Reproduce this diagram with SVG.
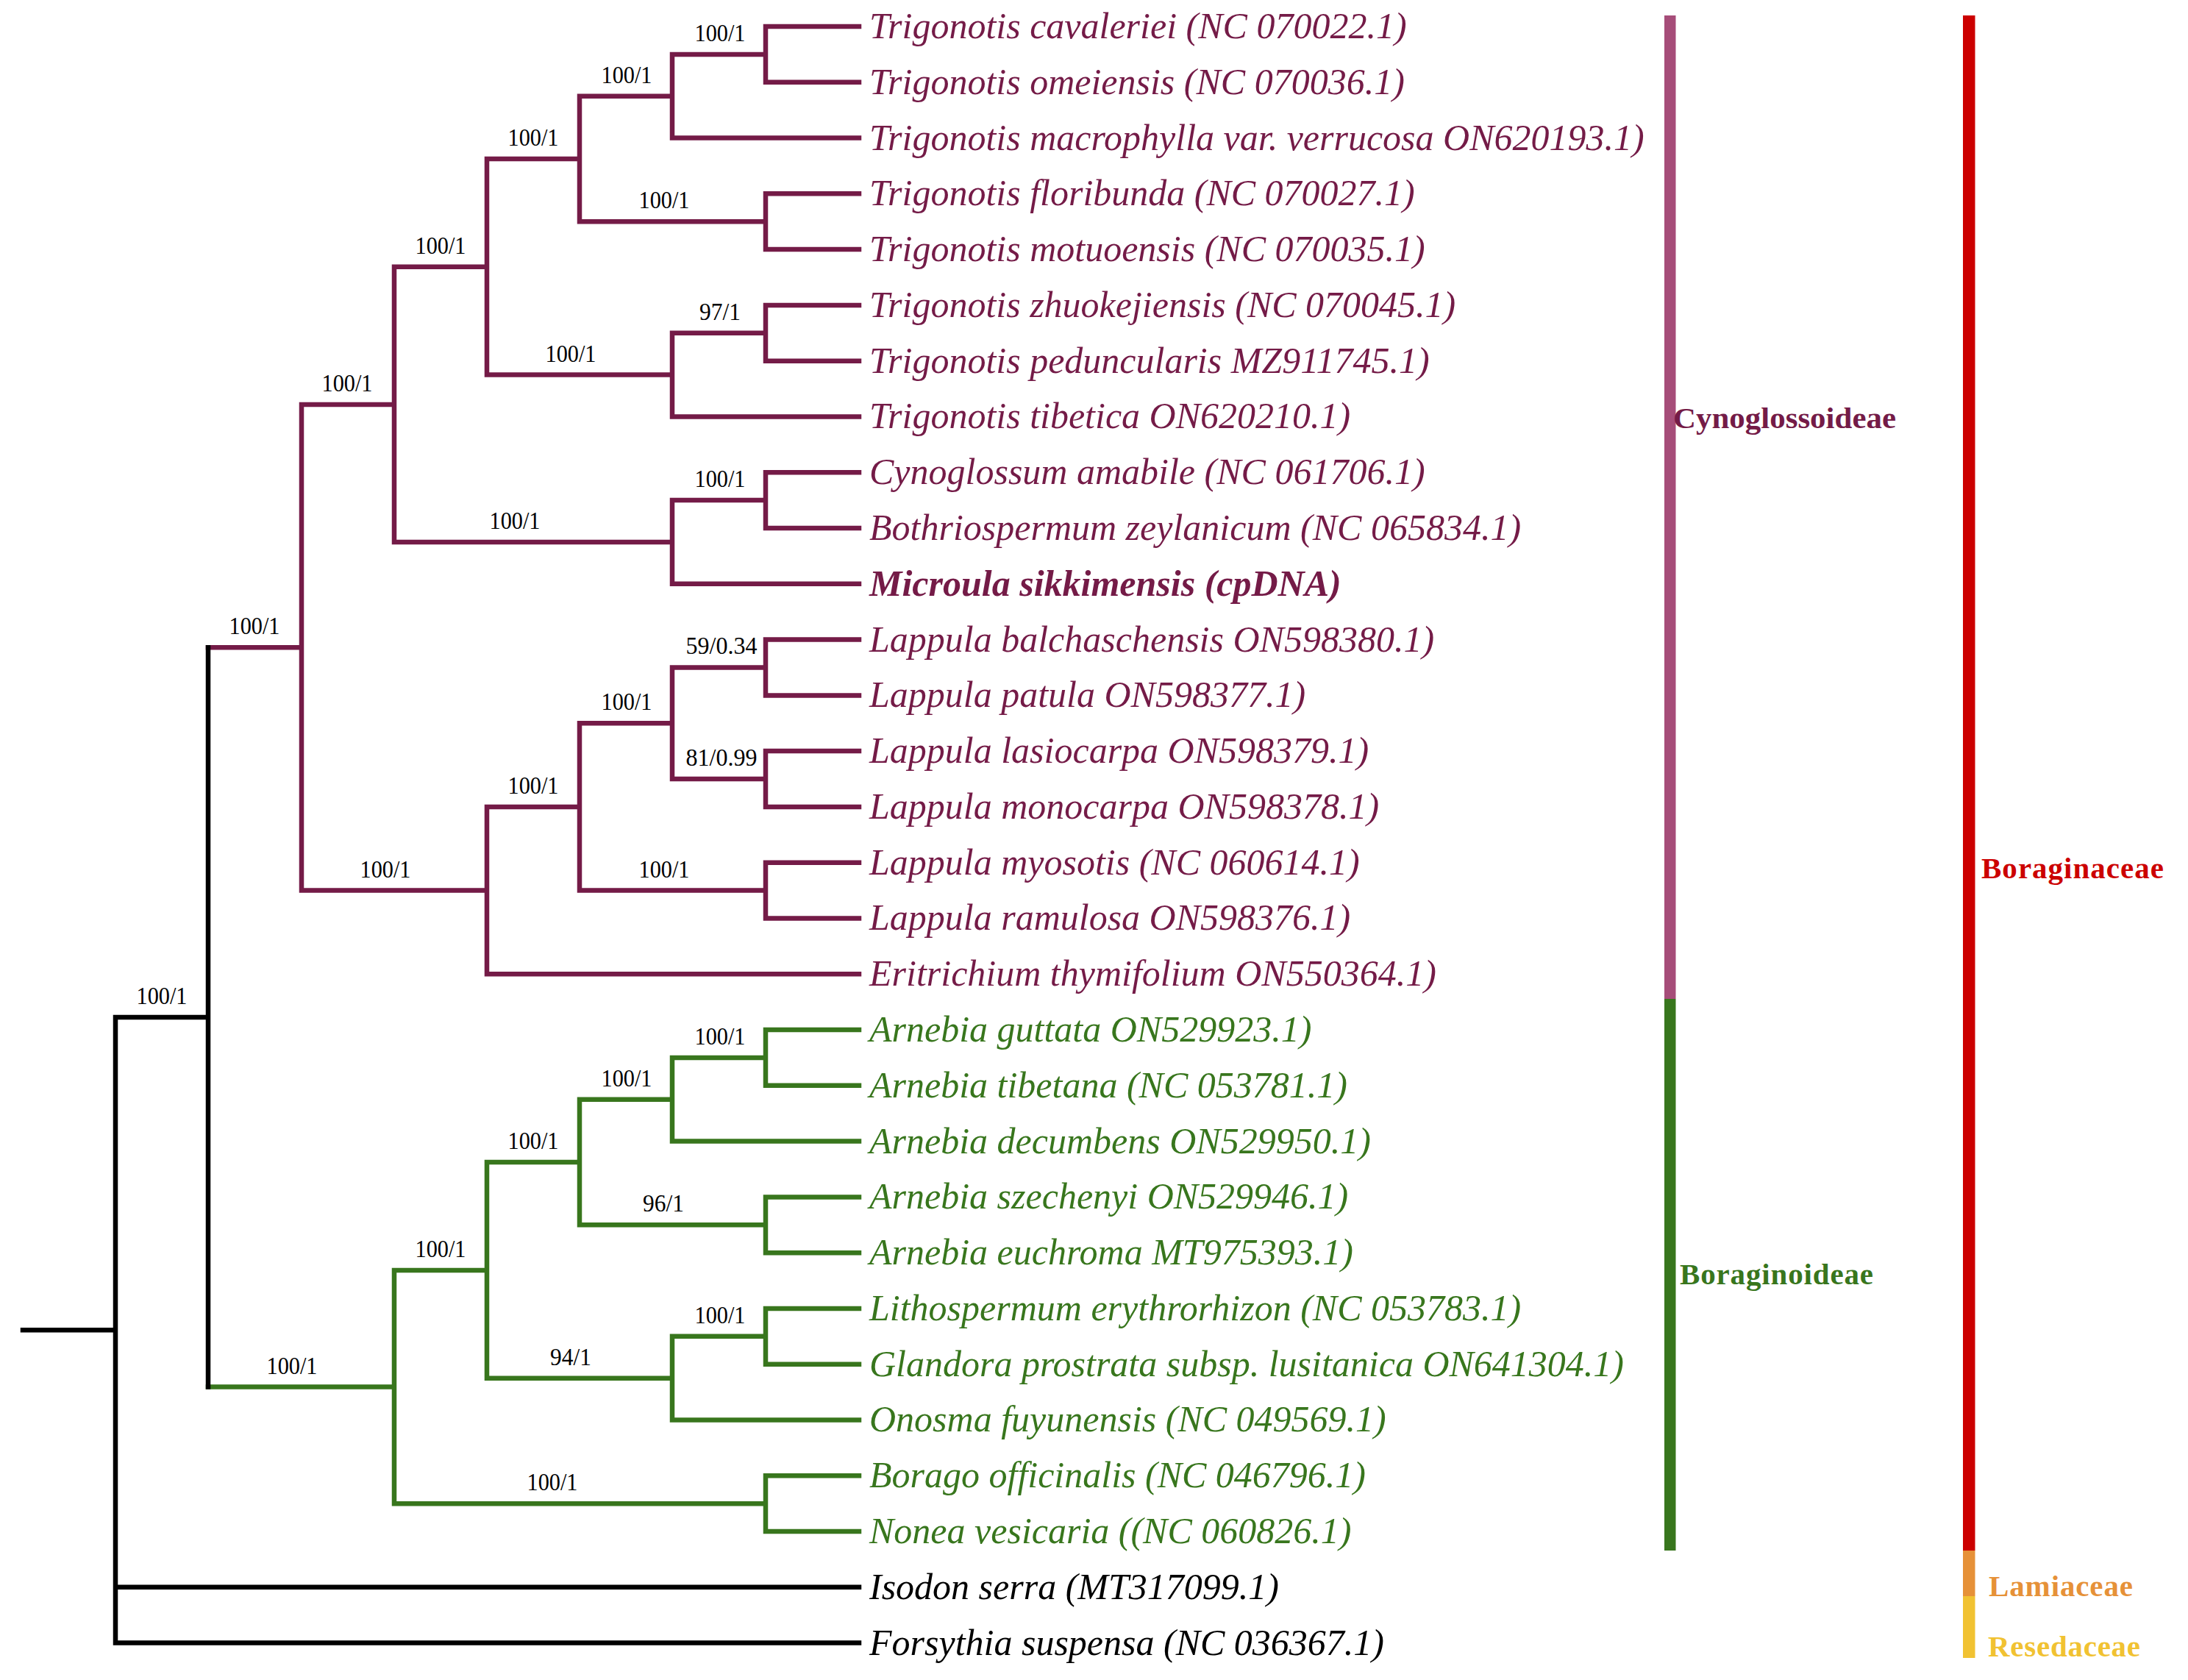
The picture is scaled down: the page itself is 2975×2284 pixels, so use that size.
<svg xmlns="http://www.w3.org/2000/svg" width="2975" height="2284" viewBox="0 0 2975 2284">
<style>
.br{fill:none;stroke-width:6.5;stroke-linecap:square}
.m{stroke:#741b47}.g{stroke:#38761d}.k{stroke:#000}
.lf{font-family:"Liberation Serif","Times New Roman",serif;font-style:italic;font-size:50px}
.tm{fill:#741b47}.tg{fill:#38761d}.tk{fill:#000}
.sp{font-family:"Liberation Serif","Times New Roman",serif;font-size:33px;fill:#000;text-anchor:middle}
.cl{font-family:"Liberation Serif","Times New Roman",serif;font-weight:bold;font-size:41px}
</style>
<rect width="2975" height="2284" fill="#fff"/>
<g id="connectors">
<path class="br m" d="M283,880.3H410M410,549.9V1210.6M410,549.9H536M536,362.8V737M536,362.8H662M662,216V509.6M662,216H788M788,130.7V301.2M788,130.7H914M914,73.9V187.6M914,73.9H1041M1041,36V111.8M1041,36H1168M1041,111.8H1168M914,187.6H1168M788,301.2H1041M1041,263.3V339.1M1041,263.3H1168M1041,339.1H1168M662,509.6H914M914,452.8V566.5M914,452.8H1041M1041,414.9V490.7M1041,414.9H1168M1041,490.7H1168M914,566.5H1168M536,737H914M914,680.1V793.8M914,680.1H1041M1041,642.2V718M1041,642.2H1168M1041,718H1168M914,793.8H1168M410,1210.6H662M662,1097V1324.3M662,1097H788M788,983.3V1210.6M788,983.3H914M914,907.5V1059M914,907.5H1041M1041,869.6V945.4M1041,869.6H1168M1041,945.4H1168M914,1059H1041M1041,1021.1V1096.9M1041,1021.1H1168M1041,1096.9H1168M788,1210.6H1041M1041,1172.7V1248.5M1041,1172.7H1168M1041,1248.5H1168M662,1324.3H1168"/>
<path class="br g" d="M283,1885.6H536M536,1726.9V2044.2M536,1726.9H662M662,1580V1873.7M662,1580H788M788,1494.8V1665.3M788,1494.8H914M914,1437.9V1551.6M914,1437.9H1041M1041,1400V1475.8M1041,1400H1168M1041,1475.8H1168M914,1551.6H1168M788,1665.3H1041M1041,1627.4V1703.2M1041,1627.4H1168M1041,1703.2H1168M662,1873.7H914M914,1816.8V1930.5M914,1816.8H1041M1041,1778.9V1854.7M1041,1778.9H1168M1041,1854.7H1168M914,1930.5H1168M536,2044.2H1041M1041,2006.3V2082.1M1041,2006.3H1168M1041,2082.1H1168"/>
<path class="br k" d="M31,1808.3H157M157,1383V2233.6M157,1383H283M283,880.3V1885.6M157,2157.8H1168M157,2233.6H1168"/>
</g>
<g id="support">
<text class="sp" x="979" y="56" textLength="69" lengthAdjust="spacingAndGlyphs">100/1</text>
<text class="sp" x="852" y="113" textLength="69" lengthAdjust="spacingAndGlyphs">100/1</text>
<text class="sp" x="725" y="198" textLength="69" lengthAdjust="spacingAndGlyphs">100/1</text>
<text class="sp" x="903" y="283" textLength="69" lengthAdjust="spacingAndGlyphs">100/1</text>
<text class="sp" x="599" y="345" textLength="69" lengthAdjust="spacingAndGlyphs">100/1</text>
<text class="sp" x="979" y="435" textLength="56" lengthAdjust="spacingAndGlyphs">97/1</text>
<text class="sp" x="776" y="492" textLength="69" lengthAdjust="spacingAndGlyphs">100/1</text>
<text class="sp" x="472" y="532" textLength="69" lengthAdjust="spacingAndGlyphs">100/1</text>
<text class="sp" x="979" y="662" textLength="69" lengthAdjust="spacingAndGlyphs">100/1</text>
<text class="sp" x="700" y="719" textLength="69" lengthAdjust="spacingAndGlyphs">100/1</text>
<text class="sp" x="346" y="862" textLength="69" lengthAdjust="spacingAndGlyphs">100/1</text>
<text class="sp" x="981" y="889" textLength="97" lengthAdjust="spacingAndGlyphs">59/0.34</text>
<text class="sp" x="852" y="965" textLength="69" lengthAdjust="spacingAndGlyphs">100/1</text>
<text class="sp" x="981" y="1041" textLength="97" lengthAdjust="spacingAndGlyphs">81/0.99</text>
<text class="sp" x="725" y="1079" textLength="69" lengthAdjust="spacingAndGlyphs">100/1</text>
<text class="sp" x="903" y="1193" textLength="69" lengthAdjust="spacingAndGlyphs">100/1</text>
<text class="sp" x="524" y="1193" textLength="69" lengthAdjust="spacingAndGlyphs">100/1</text>
<text class="sp" x="220" y="1365" textLength="69" lengthAdjust="spacingAndGlyphs">100/1</text>
<text class="sp" x="979" y="1420" textLength="69" lengthAdjust="spacingAndGlyphs">100/1</text>
<text class="sp" x="852" y="1477" textLength="69" lengthAdjust="spacingAndGlyphs">100/1</text>
<text class="sp" x="725" y="1562" textLength="69" lengthAdjust="spacingAndGlyphs">100/1</text>
<text class="sp" x="902" y="1647" textLength="56" lengthAdjust="spacingAndGlyphs">96/1</text>
<text class="sp" x="599" y="1709" textLength="69" lengthAdjust="spacingAndGlyphs">100/1</text>
<text class="sp" x="979" y="1799" textLength="69" lengthAdjust="spacingAndGlyphs">100/1</text>
<text class="sp" x="776" y="1856" textLength="56" lengthAdjust="spacingAndGlyphs">94/1</text>
<text class="sp" x="397" y="1868" textLength="69" lengthAdjust="spacingAndGlyphs">100/1</text>
<text class="sp" x="751" y="2026" textLength="69" lengthAdjust="spacingAndGlyphs">100/1</text>
</g>
<g id="leaf-00"><text class="lf tm" x="1182" y="52">Trigonotis cavaleriei (NC 070022.1)</text></g>
<g id="leaf-01"><text class="lf tm" x="1182" y="128">Trigonotis omeiensis (NC 070036.1)</text></g>
<g id="leaf-02"><text class="lf tm" x="1182" y="204">Trigonotis macrophylla var. verrucosa ON620193.1)</text></g>
<g id="leaf-03"><text class="lf tm" x="1182" y="279">Trigonotis floribunda (NC 070027.1)</text></g>
<g id="leaf-04"><text class="lf tm" x="1182" y="355">Trigonotis motuoensis (NC 070035.1)</text></g>
<g id="leaf-05"><text class="lf tm" x="1182" y="431">Trigonotis zhuokejiensis (NC 070045.1)</text></g>
<g id="leaf-06"><text class="lf tm" x="1182" y="507">Trigonotis peduncularis MZ911745.1)</text></g>
<g id="leaf-07"><text class="lf tm" x="1182" y="582">Trigonotis tibetica ON620210.1)</text></g>
<g id="leaf-08"><text class="lf tm" x="1182" y="658">Cynoglossum amabile (NC 061706.1)</text></g>
<g id="leaf-09"><text class="lf tm" x="1182" y="734">Bothriospermum zeylanicum (NC 065834.1)</text></g>
<g id="leaf-10"><text class="lf tm" x="1182" y="810" font-weight="bold">Microula sikkimensis (cpDNA)</text></g>
<g id="leaf-11"><text class="lf tm" x="1182" y="886">Lappula balchaschensis ON598380.1)</text></g>
<g id="leaf-12"><text class="lf tm" x="1182" y="961">Lappula patula ON598377.1)</text></g>
<g id="leaf-13"><text class="lf tm" x="1182" y="1037">Lappula lasiocarpa ON598379.1)</text></g>
<g id="leaf-14"><text class="lf tm" x="1182" y="1113">Lappula monocarpa ON598378.1)</text></g>
<g id="leaf-15"><text class="lf tm" x="1182" y="1189">Lappula myosotis (NC 060614.1)</text></g>
<g id="leaf-16"><text class="lf tm" x="1182" y="1264">Lappula ramulosa ON598376.1)</text></g>
<g id="leaf-17"><text class="lf tm" x="1182" y="1340">Eritrichium thymifolium ON550364.1)</text></g>
<g id="leaf-18"><text class="lf tg" x="1182" y="1416">Arnebia guttata ON529923.1)</text></g>
<g id="leaf-19"><text class="lf tg" x="1182" y="1492">Arnebia tibetana (NC 053781.1)</text></g>
<g id="leaf-20"><text class="lf tg" x="1182" y="1568">Arnebia decumbens ON529950.1)</text></g>
<g id="leaf-21"><text class="lf tg" x="1182" y="1643">Arnebia szechenyi ON529946.1)</text></g>
<g id="leaf-22"><text class="lf tg" x="1182" y="1719">Arnebia euchroma MT975393.1)</text></g>
<g id="leaf-23"><text class="lf tg" x="1182" y="1795">Lithospermum erythrorhizon (NC 053783.1)</text></g>
<g id="leaf-24"><text class="lf tg" x="1182" y="1871">Glandora prostrata subsp. lusitanica ON641304.1)</text></g>
<g id="leaf-25"><text class="lf tg" x="1182" y="1946">Onosma fuyunensis (NC 049569.1)</text></g>
<g id="leaf-26"><text class="lf tg" x="1182" y="2022">Borago officinalis (NC 046796.1)</text></g>
<g id="leaf-27"><text class="lf tg" x="1182" y="2098">Nonea vesicaria ((NC 060826.1)</text></g>
<g id="leaf-28"><text class="lf tk" x="1182" y="2174">Isodon serra (MT317099.1)</text></g>
<g id="leaf-29"><text class="lf tk" x="1182" y="2250">Forsythia suspensa (NC 036367.1)</text></g>
<g id="clade-cynoglossoideae">
<rect x="2263" y="21" width="15.5" height="1337" fill="#a64d79"/>
<text class="cl" x="2275" y="582" fill="#741b47" font-size="44" textLength="303" lengthAdjust="spacingAndGlyphs">Cynoglossoideae</text>
</g>
<g id="clade-boraginoideae">
<rect x="2263" y="1358" width="15.5" height="750" fill="#38761d"/>
<text class="cl" x="2284" y="1746" fill="#38761d" textLength="263" lengthAdjust="spacing">Boraginoideae</text>
</g>
<g id="clade-boraginaceae">
<rect x="2669" y="21" width="16.5" height="2087" fill="#cc0000"/>
<text class="cl" x="2694" y="1194" fill="#cc0000" textLength="248" lengthAdjust="spacing">Boraginaceae</text>
</g>
<g id="clade-lamiaceae">
<rect x="2669" y="2108" width="16.5" height="62" fill="#e69138"/>
<text class="cl" x="2704" y="2170" fill="#e69138" textLength="196" lengthAdjust="spacing">Lamiaceae</text>
</g>
<g id="clade-resedaceae">
<rect x="2669" y="2170" width="16.5" height="84" fill="#f1c232"/>
<text class="cl" x="2703" y="2252" fill="#f1c232" textLength="207" lengthAdjust="spacing">Resedaceae</text>
</g>
</svg>
